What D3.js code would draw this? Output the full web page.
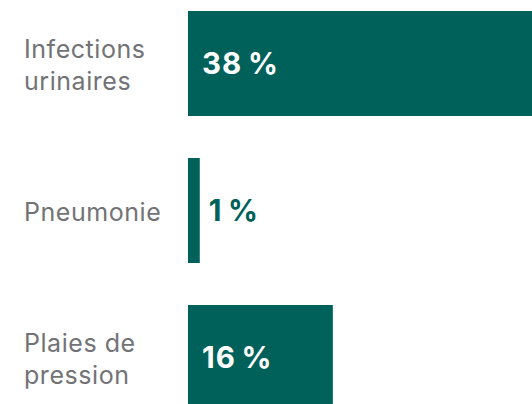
<!DOCTYPE html>
<html>
<head>
<meta charset="utf-8">
<script src="https://cdn.jsdelivr.net/npm/d3@7"></script>
<style>
  html, body { margin: 0; padding: 0; background: #fff; overflow: hidden; }
  svg { display: block; font-family: Inter, Roboto, "Noto Sans", sans-serif; }
</style>
</head>
<body>
<div id="chart"></div>
<script>
// categories (each line of the label is a separate entry)
const categories = [["Infections", "urinaires"], ["Pneumonie"], ["Plaies de", "pression"]];
// values (percent)
const values = [38, 1.3, 16];
// labels printed on or next to the bars
const valueLabels = ["38\u2009%", "1\u2009%", "16\u2009%"];

const width = 532, height = 404;
const margin = {left: 188, top: 11};
const teal = "#00615a";

const svg = d3.select("#chart")
  .append("svg")
  .attr("width", width)
  .attr("height", height)
  .style("overflow", "hidden");

// x scale: percent to pixels
let xScale = d3.scaleLinear()
  .domain([0, 38])
  .range([margin.left, width]);

// y scale: one band per category (step 147, bar 105)
let yScale = d3.scaleBand()
  .domain(d3.range(categories.length))
  .range([margin.top, margin.top + 147 * 3 - 42])
  .paddingInner(42 / 147)
  .paddingOuter(0);

// bars
svg.selectAll(".bar")
  .data(values)
  .enter()
  .append("rect")
    .attr("class", "bar")
    .attr("x", xScale(0))
    .attr("y", (d, i) => yScale(i))
    .attr("width", d => xScale(d) - xScale(0))
    .attr("height", yScale.bandwidth())
    .attr("fill", teal);

// category labels on the left
let catText = svg.selectAll(".cat")
  .data(categories)
  .enter()
  .append("text")
    .attr("class", "cat")
    .attr("x", 24)
    .attr("y", (d, i) => yScale(i) + yScale.bandwidth() / 2)
    .attr("fill", "#727376")
    .attr("font-size", "25px")
    .attr("letter-spacing", "0.55px");

catText.selectAll("tspan")
  .data(d => d.map((t, j) => ({t, j, n: d.length})))
  .enter()
  .append("tspan")
    .attr("x", 24)
    .attr("dy", d => d.j === 0 ? (0.4 - (d.n - 1) * 0.64) + "em" : "1.28em")
    .text(d => d.t);

// value labels: inside wide bars (white), outside thin ones (teal)
svg.selectAll(".val")
  .data(values)
  .enter()
  .append("text")
    .attr("class", "val")
    .attr("x", d => (xScale(d) - xScale(0) > 100) ? xScale(0) + 14 : xScale(d) + 9)
    .attr("y", (d, i) => yScale(i) + yScale.bandwidth() / 2)
    .attr("dy", "0.34em")
    .attr("fill", d => (xScale(d) - xScale(0) > 100) ? "#fff" : teal)
    .attr("font-size", "29.5px")
    .attr("font-weight", "bold")
    .attr("letter-spacing", "1px")
    .text((d, i) => valueLabels[i]);
</script>
</body>
</html>
